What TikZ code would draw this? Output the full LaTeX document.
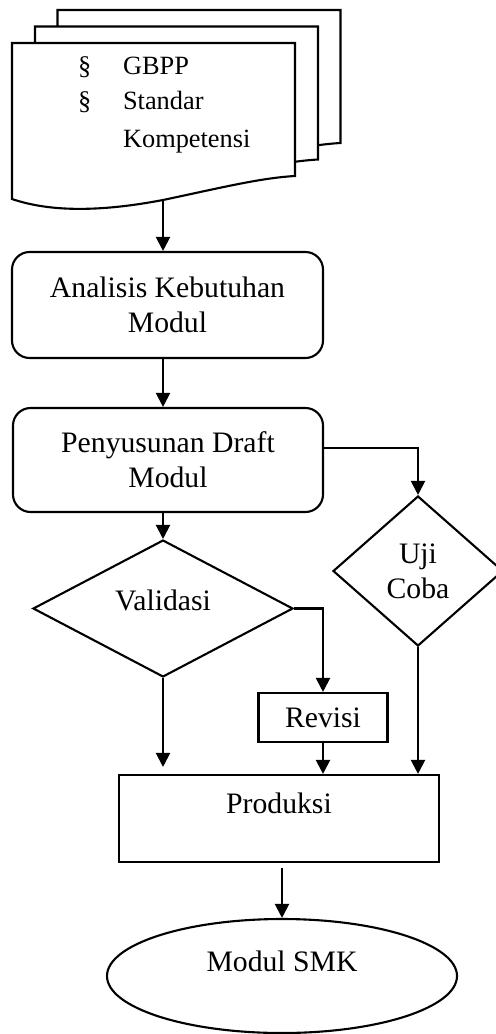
\documentclass[tikz,border=0pt]{standalone}
\usepackage{fontspec}
\setmainfont{Liberation Serif}
\usetikzlibrary{shapes.geometric,arrows.meta,calc}
\newlength\pxu \setlength\pxu{0.02cm}
\begin{document}
\begin{tikzpicture}[x=0.02cm,y=-0.02cm, line width=1.2pt,
  every node/.style={font=\fontsize{16.9}{20}\selectfont},
  box/.style={draw, rectangle, inner sep=2pt, align=center},
  rbox/.style={box, rounded corners=10pt},
  dia/.style={draw, diamond, align=center, inner sep=1pt},
  arr/.style={-{Triangle[length=8pt,width=8pt]}},
  page/.style={draw, fill=white},
  doct/.style={anchor=base west, inner sep=0pt, font=\fontsize{15}{18}\selectfont}
]
\useasboundingbox (0,0) rectangle (495,1034);
% document stack
\foreach \dx/\dy in {45.5/-33, 23/-16.5, 0/0} {
  \draw[page, shift={(\dx,\dy)}] (12,43) -- (295,43) -- (295,176)
    .. controls (260,178) and (220,188) .. (163,200)
    .. controls (100,212) and (50,212) .. (12,199) -- cycle;
}
\node[doct] (s1) at (77,75) {\S};
\node[doct] (g) at (122,75) {GBPP};
\node[doct] (s2) at (77,110) {\S};
\node[doct] (st) at (122,110) {Standar};
\node[doct] (ko) at (122,147) {Kompetensi};
\coordinate (docb) at (163,200);
% main nodes
\node[rbox, minimum width=311\pxu, minimum height=106\pxu] (ana) at (167.5,305) {Analisis Kebutuhan\\Modul};
\node[rbox, minimum width=310\pxu, minimum height=104\pxu] (pen) at (168,460) {Penyusunan Draft\\Modul};
\node[dia, minimum width=260\pxu, minimum height=123\pxu, text height=11pt, text depth=8.5pt] (val) at (163,608.5) {Validasi};
\node[dia, minimum width=170\pxu, minimum height=150\pxu] (uji) at (418,571) {Uji\\Coba};
\node[box, minimum width=129\pxu, minimum height=49\pxu] (rev) at (323,717.5) {Revisi};
\node[box, minimum width=320\pxu, minimum height=87\pxu, text height=11pt, text depth=16.5pt] (prod) at (279,818.5) {Produksi};
\node[draw, ellipse, minimum width=350\pxu, minimum height=114\pxu, text height=11pt, text depth=16pt] (smk) at (282,976) {Modul SMK};
% connectors
\draw[arr] (docb) -- (docb |- ana.north);
\draw[arr] (docb |- ana.south) -- (docb |- pen.north);
\draw[arr] (docb |- pen.south) -- (val.north);
\draw[arr] (pen.east |- 0,448) -| (uji.north);
\draw[arr] (val.east) -| (rev.north);
\draw[arr, shorten >=7\pxu] (val.south) -- (val.south |- prod.north);
\draw[arr] (rev.south) -- (rev.south |- prod.north);
\draw[arr] (uji.south) -- (uji.south |- prod.north);
\draw[arr, shorten <=5\pxu] (prod.south -| smk.north) -- (smk.north);
\end{tikzpicture}
\end{document}
